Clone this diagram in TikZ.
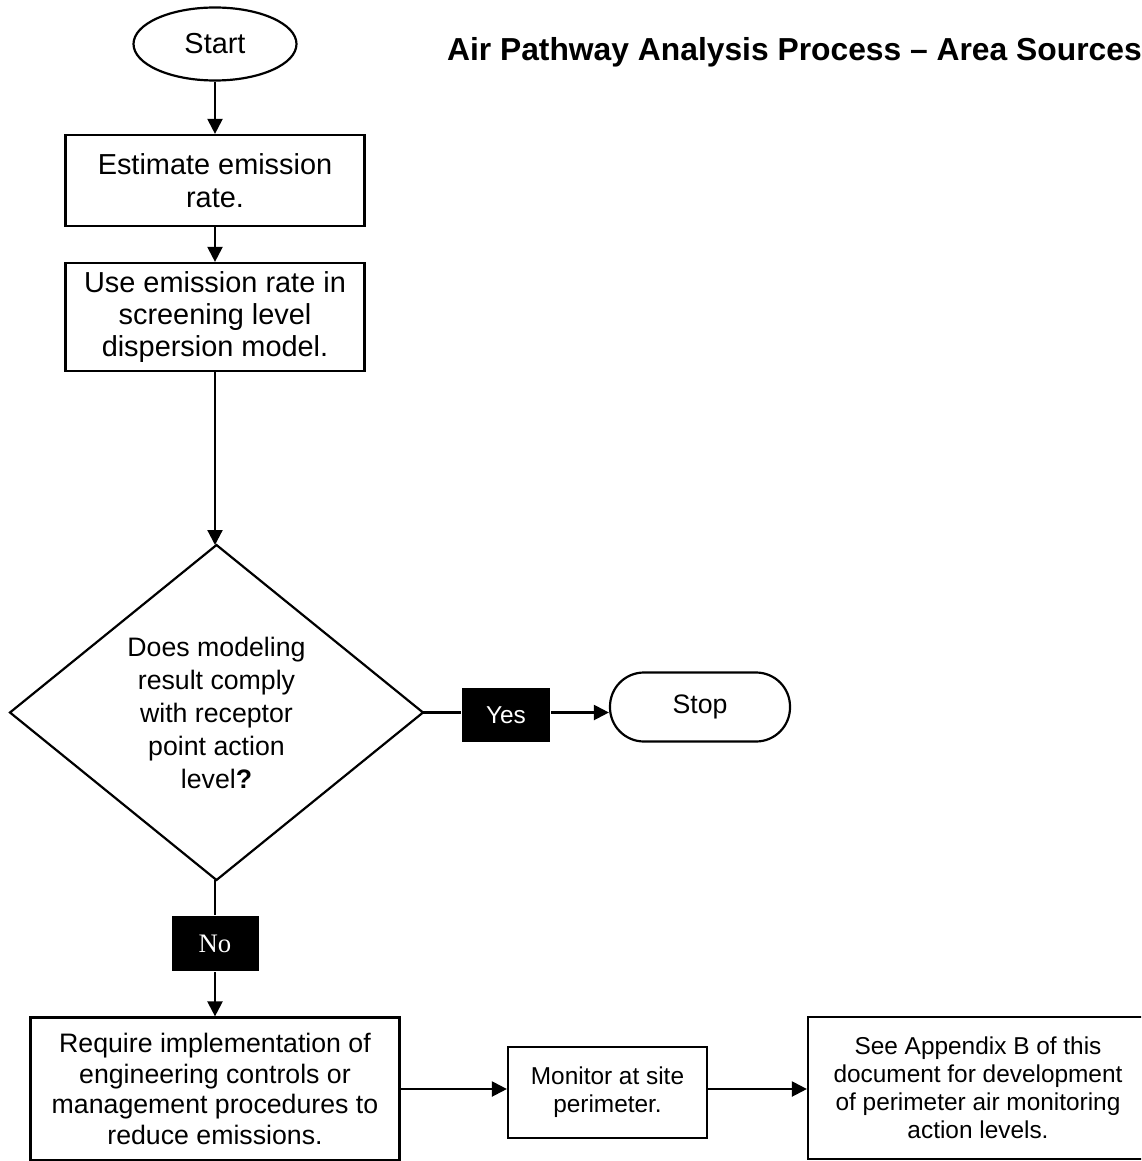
\documentclass[tikz,border=0pt]{standalone}
\usepackage{fontspec}
\setmainfont{Liberation Sans}
\newfontfamily\timesfont{Liberation Serif}
\usetikzlibrary{shapes.geometric,arrows.meta}

\begin{document}
\begin{tikzpicture}[x=1pt, y=-1pt, line width=2.2pt]
  \tikzstyle{box}=[draw, rectangle, inner sep=0pt, align=center]
  \tikzstyle{answer}=[fill=black, text=white, inner sep=0pt]
  \tikzstyle{arrow}=[-{Triangle[length=15pt, width=15pt]}]

\useasboundingbox (0,0) rectangle (1141,1161);
\clip (0,0) rectangle (1141,1161);

\node[draw, ellipse, minimum width=163pt, minimum height=73pt, inner sep=0pt,
  font=\fontsize{28.9}{33}\selectfont] (start) at (215, 44) {Start};
\node[anchor=west, inner sep=0pt, font=\bfseries\fontsize{31.8}{36}\selectfont]
  (title) at (446, 52) {Air Pathway Analysis Process – Area Sources};

\node[box, minimum width=299pt, minimum height=91pt,
  font=\fontsize{28.9}{33}\selectfont] (estimate) at (215, 180.5) {Estimate emission\\rate.};
\draw[arrow] (start) -- (estimate);

\node[box, minimum width=299pt, minimum height=108pt,
  font=\fontsize{28.9}{32}\selectfont] (usemodel) at (215, 317) {Use emission rate in\\screening level\\dispersion model.};
\draw[arrow] (estimate) -- (usemodel);

\node[draw, diamond, shape aspect=1.233, minimum width=413pt, minimum height=335pt,
  inner sep=0pt, outer sep=0pt, align=center, font=\fontsize{26.7}{33}\selectfont]
  (comply) at (216.5, 712.5) {Does modeling\\result comply\\with receptor\\point action\\level\textbf{?}};
\draw[arrow] (usemodel) -- (usemodel |- comply.north);

\node[answer, minimum width=88pt, minimum height=54pt,
  font=\fontsize{24.4}{28}\selectfont] (yes) at (506, 715) {Yes};
\draw (comply.east) -- (comply.east -| yes.west);

\node[draw, rounded corners=34pt, minimum width=180pt, minimum height=69pt,
  font=\fontsize{26.7}{30}\selectfont] (stop) at (700, 707) {Stop};
\draw[arrow] (comply.east -| yes.east) -- (comply.east -| stop.west);

\node[answer, minimum width=87pt, minimum height=55pt,
  font=\timesfont\fontsize{26.7}{30}\selectfont] (no) at (215, 943.5) {No};
\draw (comply.south -| no.north) -- (no.north);

\node[box, minimum width=369pt, minimum height=143pt,
  font=\fontsize{26.7}{30.5}\selectfont] (require) at (215, 1089) {Require implementation of\\engineering controls or\\management procedures to\\reduce emissions.};
\draw[arrow] (no) -- (require);

\node[box, minimum width=199pt, minimum height=91pt,
  font=\fontsize{24.4}{27.7}\selectfont] (monitor) at (607.5, 1092.5) {Monitor at site\\perimeter.};
\draw[arrow] (require.east) -- (require.east -| monitor.west);

\node[box, minimum width=340pt, minimum height=142pt,
  font=\fontsize{24.4}{28}\selectfont] (appendix) at (978, 1088) {See Appendix B of this\\document for development\\of perimeter air monitoring\\action levels.};
\draw[arrow] (require.east -| monitor.east) -- (require.east -| appendix.west);

\end{tikzpicture}
\end{document}
